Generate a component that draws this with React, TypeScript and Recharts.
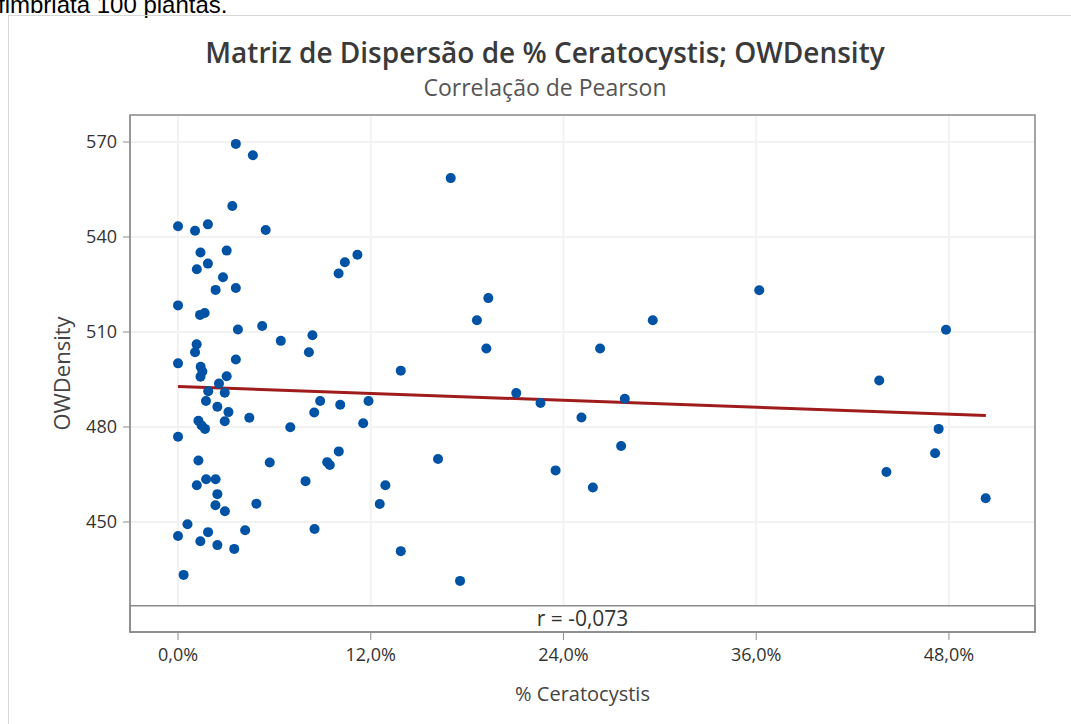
import React from 'react';
import {
  ScatterChart,
  Scatter,
  XAxis,
  YAxis,
  CartesianGrid,
  ReferenceArea,
  ReferenceLine,
  Label,
} from 'recharts';

// % Ceratocystis (x) and OWDensity (y)
const ceratocystisPct = [
  3.6, 4.66, 3.38, 0, 1.06, 1.86, 5.46, 1.4, 3.03, 1.86,
  1.17, 2.8, 2.34, 3.6, 10.0, 10.39, 11.17, 0, 1.37, 1.66,
  3.73, 5.24, 6.4, 8.37, 8.15, 1.16, 1.06, 0, 3.6, 1.41,
  1.52, 1.4, 3.03, 2.55, 1.88, 2.91, 1.74, 2.45, 3.14, 4.44,
  2.91, 1.27, 1.47, 1.68, 0, 6.99, 8.48, 8.85, 10.1, 11.86,
  11.53, 13.87, 1.27, 5.71, 9.29, 9.45, 10.01, 7.94, 1.17, 1.75,
  2.34, 2.45, 2.33, 2.92, 4.88, 12.91, 12.56, 0.59, 0, 1.87,
  1.39, 2.45, 3.5, 4.18, 8.5, 13.87, 0.35, 16.98, 19.32, 18.61,
  19.2, 29.56, 26.28, 21.06, 22.57, 27.82, 25.12, 16.19, 23.51, 27.59,
  25.83, 17.56, 36.19, 47.82, 43.66, 47.36, 47.14, 44.11, 50.29,
];

const owDensity = [
  569.4, 565.8, 549.8, 543.4, 542.0, 544.0, 542.2, 535.1, 535.7, 531.6,
  529.8, 527.3, 523.3, 523.9, 528.5, 532.0, 534.4, 518.4, 515.4, 516.0,
  510.8, 511.9, 507.2, 509.0, 503.6, 506.1, 503.6, 500.1, 501.3, 499.0,
  497.5, 495.9, 496.0, 493.7, 491.3, 490.8, 488.2, 486.4, 484.7, 482.9,
  481.8, 482.0, 480.5, 479.4, 476.9, 479.9, 484.6, 488.2, 487.0, 488.2,
  481.2, 497.8, 469.4, 468.8, 468.9, 468.0, 472.3, 462.9, 461.6, 463.5,
  463.5, 458.8, 455.3, 453.4, 455.8, 461.6, 455.7, 449.3, 445.6, 446.8,
  443.9, 442.7, 441.5, 447.4, 447.8, 440.8, 433.3, 558.6, 520.7, 513.7,
  504.8, 513.7, 504.8, 490.7, 487.6, 488.9, 483.0, 469.9, 466.3, 474.0,
  460.9, 431.4, 523.2, 510.7, 494.7, 479.4, 471.7, 465.8, 457.5,
];

// fitted line end points
const fitX = [0, 50.3];
const fitY = [492.8, 483.6];

const xTicks = [0, 12, 24, 36, 48];
const yTicks = [450, 480, 510, 540, 570];

const xDomain: [number, number] = [-2.99, 53.36];
const yDomain: [number, number] = [415.26, 578.53];
const rPanelTop = 423.53;

const points = ceratocystisPct.map((x, i) => ({ x, y: owDensity[i] }));

const font = '"Open Sans", "Noto Sans", sans-serif';

export default function App() {
  return (
    <div
      style={{
        position: 'absolute',
        left: 0,
        top: 0,
        width: 1071,
        height: 724,
        background: '#fff',
        overflow: 'hidden',
        fontFamily: font,
      }}
    >
      <div
        style={{
          position: 'absolute',
          left: -2,
          top: -9,
          fontFamily: '"Liberation Sans", Arial, sans-serif',
          fontSize: 24,
          color: '#000',
          whiteSpace: 'nowrap',
        }}
      >
        fimbriata 100 plantas.
      </div>
      <div
        style={{
          position: 'absolute',
          left: 8,
          top: 15,
          width: 1080,
          height: 720,
          borderLeft: '1px solid #d6d6d6',
          borderTop: '1px solid #d6d6d6',
        }}
      />
      <div
        style={{
          position: 'absolute',
          left: 0,
          width: 1090,
          top: 33,
          textAlign: 'center',
          fontSize: 28,
          fontWeight: 600,
          color: '#3a3a3a',
        }}
      >
        Matriz de Dispersão de % Ceratocystis; OWDensity
      </div>
      <div
        style={{
          position: 'absolute',
          left: 0,
          width: 1090,
          top: 71,
          textAlign: 'center',
          fontSize: 23,
          color: '#555',
        }}
      >
        Correlação de Pearson
      </div>
      <div style={{ position: 'absolute', left: 0, top: 0 }}>
        <ScatterChart
          width={1071}
          height={724}
          margin={{ top: 115, right: 36, left: 70, bottom: 32 }}
        >
          <CartesianGrid stroke="#f2f2f2" strokeWidth={2} />
          <XAxis
            type="number"
            dataKey="x"
            domain={xDomain}
            ticks={xTicks}
            allowDataOverflow
            height={60}
            tickSize={8}
            tickMargin={8}
            stroke="#8c8c8c"
            tick={{ fill: '#333', fontSize: 18, fontFamily: font }}
            tickFormatter={(v: number) => v.toFixed(1).replace('.', ',') + '%'}
          >
            <Label
              value="% Ceratocystis"
              position="insideBottom"
              offset={-9}
              style={{ fill: '#444', fontSize: 20, fontFamily: font }}
            />
          </XAxis>
          <YAxis
            type="number"
            dataKey="y"
            domain={yDomain}
            ticks={yTicks}
            allowDataOverflow
            width={60}
            tickSize={7}
            tickMargin={6}
            stroke="#8c8c8c"
            tick={{ fill: '#333', fontSize: 18, fontFamily: font }}
          >
            <Label
              value="OWDensity"
              angle={-90}
              position="insideLeft"
              offset={-8}
              style={{ fill: '#444', fontSize: 22, fontFamily: font, textAnchor: 'middle' }}
            />
          </YAxis>
          <ReferenceArea
            x1={xDomain[0]}
            x2={xDomain[1]}
            y1={yDomain[0]}
            y2={rPanelTop}
            fill="#fff"
            fillOpacity={1}
            stroke="#8c8c8c"
            strokeWidth={1.5}
          >
            <Label
              value="r = -0,073"
              position="center"
              style={{ fill: '#333', fontSize: 21, fontFamily: font }}
            />
          </ReferenceArea>
          <ReferenceArea
            x1={xDomain[0]}
            x2={xDomain[1]}
            y1={yDomain[0]}
            y2={yDomain[1]}
            fill="none"
            stroke="#8c8c8c"
            strokeWidth={1.5}
          />
          <ReferenceLine
            segment={[
              { x: fitX[0], y: fitY[0] },
              { x: fitX[1], y: fitY[1] },
            ]}
            stroke="#a01c1c"
            strokeWidth={3}
          />
          <Scatter
            data={points}
            fill="#0052a5"
            isAnimationActive={false}
            shape={(props: any) => (
              <circle cx={props.cx} cy={props.cy} r={5} fill="#0052a5" />
            )}
          />
        </ScatterChart>
      </div>
    </div>
  );
}
